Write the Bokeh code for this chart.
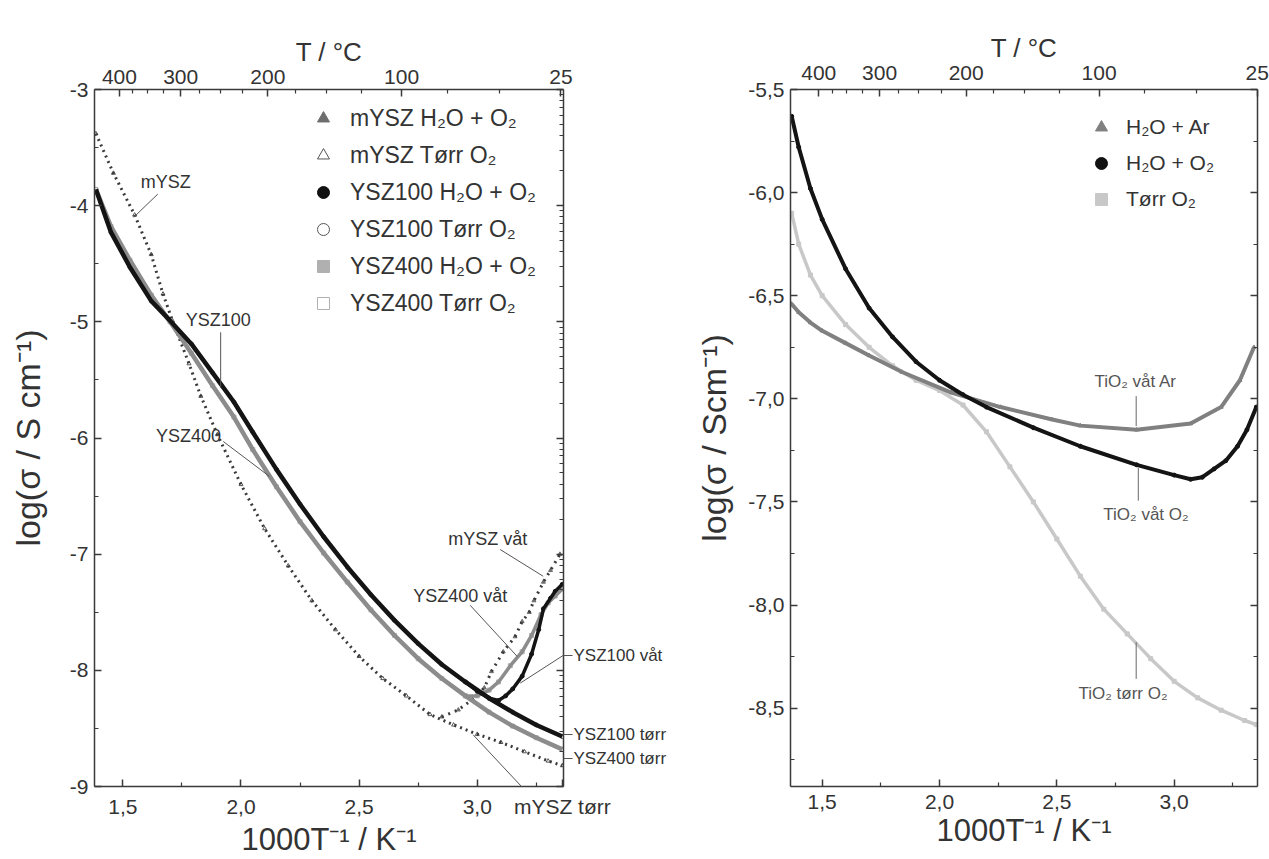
import math
from bokeh.plotting import figure
from bokeh.models import (LinearAxis, FixedTicker, Range1d, Legend, LegendItem, Label,
                          Arrow, CustomJSTickFormatter)
from bokeh.layouts import row
from bokeh.embed import file_html
from bokeh.resources import INLINE

FONT = "Liberation Sans"
AX = "#3a3a3a"

# ---------------- left panel data (1000/T, log sigma) ----------------
ysz_x = [1.386, 1.45, 1.53, 1.62, 1.70, 1.79, 1.88, 1.97, 2.05, 2.15, 2.25, 2.35, 2.45,
         2.55, 2.65, 2.75, 2.85, 2.95, 3.05, 3.15, 3.25, 3.36]
ysz100_dry_y = [-3.86, -4.23, -4.53, -4.82, -4.99, -5.19, -5.44, -5.69, -5.95, -6.27, -6.57,
                -6.85, -7.11, -7.35, -7.57, -7.77, -7.95, -8.10, -8.24, -8.36, -8.47, -8.57]
ysz400_dry_y = [-3.86, -4.18, -4.47, -4.77, -5.00, -5.27, -5.55, -5.82, -6.10, -6.42, -6.72,
                -6.99, -7.24, -7.48, -7.70, -7.90, -8.07, -8.22, -8.36, -8.48, -8.58, -8.68]

ysz100_wet_x = [2.95, 3.00, 3.05, 3.09, 3.12, 3.15, 3.19, 3.23, 3.26, 3.28, 3.31, 3.33, 3.36]
ysz100_wet_y = [-8.10, -8.18, -8.24, -8.26, -8.22, -8.16, -8.05, -7.86, -7.65, -7.47, -7.38, -7.32, -7.26]

ysz400_wet_x = [2.95, 3.00, 3.05, 3.09, 3.14, 3.19, 3.23, 3.27, 3.30, 3.33, 3.36]
ysz400_wet_y = [-8.22, -8.22, -8.17, -8.10, -7.96, -7.84, -7.70, -7.52, -7.42, -7.36, -7.30]

mysz_dry_x = [1.386, 1.46, 1.55, 1.62, 1.67, 1.71, 1.78, 1.83, 1.90, 2.00, 2.10, 2.20, 2.30,
              2.40, 2.50, 2.60, 2.70, 2.80, 2.90, 3.00, 3.10, 3.20, 3.30, 3.36]
mysz_dry_y = [-3.38, -3.72, -4.08, -4.42, -4.76, -4.99, -5.36, -5.64, -5.97, -6.40, -6.78,
              -7.10, -7.40, -7.65, -7.88, -8.07, -8.22, -8.38, -8.47, -8.55, -8.62, -8.70,
              -8.78, -8.82]
mysz_wet_x = [2.85, 2.92, 2.98, 3.03, 3.06, 3.11, 3.16, 3.19, 3.22, 3.24, 3.28, 3.31, 3.35]
mysz_wet_y = [-8.40, -8.34, -8.25, -8.15, -8.01, -7.84, -7.71, -7.58, -7.50, -7.40, -7.24, -7.14, -7.00]

# ---------------- right panel data (TiO2) ----------------
ar_x = [1.37, 1.40, 1.45, 1.50, 1.60, 1.70, 1.84, 2.05, 2.26, 2.48, 2.60, 2.84, 3.07, 3.20, 3.28, 3.34]
ar_y = [-6.54, -6.58, -6.63, -6.67, -6.73, -6.79, -6.87, -6.97, -7.04, -7.10, -7.13, -7.15,
        -7.12, -7.04, -6.91, -6.75]
o2_x = [1.37, 1.40, 1.45, 1.50, 1.60, 1.70, 1.80, 1.90, 2.00, 2.10, 2.20, 2.40, 2.60, 2.84,
        3.00, 3.07, 3.12, 3.17, 3.22, 3.27, 3.31, 3.35]
o2_y = [-5.63, -5.78, -5.98, -6.13, -6.37, -6.56, -6.70, -6.82, -6.91, -6.98, -7.04, -7.14,
        -7.23, -7.32, -7.37, -7.39, -7.38, -7.34, -7.30, -7.23, -7.15, -7.04]
dry_x = [1.37, 1.40, 1.45, 1.50, 1.60, 1.70, 1.80, 1.90, 2.00, 2.10, 2.20, 2.30, 2.40, 2.50,
         2.60, 2.70, 2.80, 2.90, 3.00, 3.10, 3.20, 3.30, 3.35]
dry_y = [-6.10, -6.25, -6.40, -6.50, -6.64, -6.75, -6.84, -6.91, -6.96, -7.03, -7.16, -7.33,
         -7.50, -7.68, -7.86, -8.02, -8.14, -8.26, -8.37, -8.45, -8.51, -8.56, -8.58]

# ticks
x_major = [1.5, 2.0, 2.5, 3.0]
x_minor = [1.75, 2.25, 2.75, 3.25]
T_major = [400, 300, 200, 100, 25]
T_minor = [375, 350, 325, 275, 250, 225, 175, 150, 125, 75, 50]
left_y_major = [-9, -8, -7, -6, -5, -4, -3]
left_y_minor = [-8.5, -7.5, -6.5, -5.5, -4.5, -3.5]
right_y_major = [-8.5, -8.0, -7.5, -7.0, -6.5, -6.0, -5.5]
right_y_minor = [-8.75, -8.25, -7.75, -7.25, -6.75, -6.25, -5.75]

# labels that sit outside the left frame (at the right edge / below)
side_label_y = [-7.87, -8.55, -8.76]
side_label_text = ["YSZ100 våt", "YSZ100 tørr", "YSZ400 tørr"]
below_label_x = 3.36
below_label_text = "mYSZ tørr"


def inv(T):
    return 1000.0 / (T + 273.15)


def style(ax, label_size="21px", title_size="26px"):
    ax.axis_line_color = AX
    ax.axis_line_width = 1.5
    ax.major_tick_line_color = AX
    ax.minor_tick_line_color = AX
    ax.major_tick_line_width = 1.5
    ax.minor_tick_line_width = 1.2
    ax.major_tick_in = 7
    ax.major_tick_out = 0
    ax.minor_tick_in = 4
    ax.minor_tick_out = 0
    ax.major_label_text_font = FONT
    ax.major_label_text_font_size = label_size
    ax.major_label_text_color = "#333333"
    ax.axis_label_text_font = FONT
    ax.axis_label_text_font_style = "normal"
    ax.axis_label_text_font_size = title_size
    ax.axis_label_text_color = "#333333"


comma1 = CustomJSTickFormatter(code="return tick.toFixed(1).replace('.', ',')")
int0 = CustomJSTickFormatter(code="return tick.toFixed(0)")
blank = CustomJSTickFormatter(code="return ''")
tempfmt = CustomJSTickFormatter(code="return String(Math.round(1000/tick - 273.15))")


def make_fig(width, xr, yr, bl, br, bt, xticks, xfmt, yticks, yminor, yfmt, right_ticks,
             right_minor, ylabel, ystand, top_stand):
    p = figure(width=width, height=859, x_range=Range1d(*xr), y_range=Range1d(*yr),
               min_border_left=bl, min_border_right=br, min_border_top=bt, min_border_bottom=68,
               output_backend="svg", toolbar_location=None)
    p.xgrid.visible = False
    p.ygrid.visible = False
    p.outline_line_color = None
    xa = p.xaxis[0]
    xa.ticker = FixedTicker(ticks=xticks, minor_ticks=x_minor)
    xa.formatter = xfmt
    xa.axis_label = "1000T⁻¹ / K⁻¹"
    style(xa, title_size="31px")
    xa.major_label_standoff = 8
    xa.axis_label_standoff = 1
    ya = p.yaxis[0]
    ya.ticker = FixedTicker(ticks=yticks, minor_ticks=yminor)
    ya.formatter = yfmt
    ya.axis_label = ylabel
    style(ya, title_size="34px")
    ya.major_label_standoff = 6
    ya.axis_label_standoff = ystand
    top = LinearAxis(ticker=FixedTicker(ticks=[inv(t) for t in T_major],
                                        minor_ticks=[inv(t) for t in T_minor]),
                     formatter=tempfmt, axis_label="T / °C")
    style(top)
    top.major_label_standoff = top_stand
    top.axis_label_standoff = 0
    p.add_layout(top, "above")
    right = LinearAxis(ticker=FixedTicker(ticks=right_ticks, minor_ticks=right_minor),
                       formatter=blank)
    style(right)
    right.major_label_standoff = 0
    p.add_layout(right, "right")
    return p


# ---------------- left figure ----------------
log_minor = [n + math.log10(k) for n in range(-9, -3) for k in range(2, 10)]
bottom_fmt1 = CustomJSTickFormatter(
    args=dict(lx=below_label_x, lt=below_label_text),
    code="if (Math.abs(tick - lx) < 1e-6) { return lt; } return tick.toFixed(1).replace('.', ',');")
p1 = make_fig(680, (1.38, 3.365), (-9, -3), 94, 117, 84, x_major + [below_label_x], bottom_fmt1,
              left_y_major, left_y_minor, int0, left_y_major, log_minor, "log(σ / S cm⁻¹)", 20, 6)

# side labels drawn as tick labels of an extra right axis (short dash = tick)
side_fmt = CustomJSTickFormatter(
    args=dict(ys=side_label_y, ts=side_label_text),
    code="for (let i = 0; i < ys.length; i++) { if (Math.abs(tick - ys[i]) < 1e-6) return ts[i]; } return '';")
side_ax = LinearAxis(ticker=FixedTicker(ticks=side_label_y, minor_ticks=[]), formatter=side_fmt)
side_ax.axis_line_color = None
side_ax.major_tick_in = 0
side_ax.major_tick_out = 9
side_ax.major_tick_line_color = "#555555"
side_ax.major_tick_line_width = 1
side_ax.minor_tick_line_color = None
side_ax.major_label_standoff = 1
side_ax.major_label_text_font = FONT
side_ax.major_label_text_font_size = "17px"
side_ax.major_label_text_color = "#333333"
p1.add_layout(side_ax, "right")

# markers at the data points (legend glyphs), then the curves on top
r_my_w = p1.scatter(mysz_wet_x, mysz_wet_y, marker="triangle", size=4,
                    fill_color="#6e6e6e", line_color="#6e6e6e")
r_my_d = p1.scatter(mysz_dry_x, mysz_dry_y, marker="triangle", size=4,
                    fill_color=None, line_color="#555555")
r_y1_w = p1.scatter(ysz100_wet_x, ysz100_wet_y, marker="circle", size=4,
                    fill_color="#111111", line_color="#111111")
r_y1_d = p1.scatter(ysz_x, ysz100_dry_y, marker="circle", size=4,
                    fill_color=None, line_color="#555555")
r_y4_w = p1.scatter(ysz400_wet_x, ysz400_wet_y, marker="square", size=4,
                    fill_color="#b0b0b0", line_color="#b0b0b0")
r_y4_d = p1.scatter(ysz_x, ysz400_dry_y, marker="square", size=4,
                    fill_color=None, line_color="#b0b0b0")

p1.line(mysz_dry_x, mysz_dry_y, line_color="#3a3a3a", line_width=3, line_dash="2 4")
p1.line(mysz_wet_x, mysz_wet_y, line_color="#3a3a3a", line_width=3, line_dash="2 5")
p1.line(ysz_x, ysz400_dry_y, line_color="#8c8c8c", line_width=4.5)
p1.line(ysz400_wet_x, ysz400_wet_y, line_color="#8c8c8c", line_width=3.5)
p1.line(ysz_x, ysz100_dry_y, line_color="#141414", line_width=4.5)
p1.line(ysz100_wet_x, ysz100_wet_y, line_color="#141414", line_width=3.5)

items1 = [
    LegendItem(label="mYSZ H₂O + O₂", renderers=[r_my_w]),
    LegendItem(label="mYSZ Tørr O₂", renderers=[r_my_d]),
    LegendItem(label="YSZ100 H₂O + O₂", renderers=[r_y1_w]),
    LegendItem(label="YSZ100 Tørr O₂", renderers=[r_y1_d]),
    LegendItem(label="YSZ400 H₂O + O₂", renderers=[r_y4_w]),
    LegendItem(label="YSZ400 Tørr O₂", renderers=[r_y4_d]),
]
leg1 = Legend(items=items1, location=(214, 468), label_text_font=FONT,
              label_text_font_size="23px", label_text_color="#333333",
              glyph_width=30, glyph_height=30, label_height=30, spacing=7,
              label_standoff=12, padding=0, margin=0, border_line_color=None,
              background_fill_alpha=0)
p1.add_layout(leg1, "center")

ann1 = [
    ("mYSZ", 1.576, -3.80),
    ("YSZ100", 1.766, -4.98),
    ("YSZ400", 1.640, -5.98),
    ("mYSZ våt", 2.877, -6.87),
    ("YSZ400 våt", 2.729, -7.36),
]
for t, x, y in ann1:
    p1.add_layout(Label(x=x, y=y, text=t, text_font=FONT, text_font_size="18px",
                        text_color="#333333", text_baseline="middle", text_align="left"))
lead1 = [
    (1.648, -3.90, 1.546, -4.10),
    (1.914, -5.09, 1.914, -5.57),
    (1.925, -6.03, 2.120, -6.33),
    (3.097, -6.96, 3.279, -7.19),
    (2.970, -7.44, 3.169, -7.88),
    (3.365, -7.87, 3.182, -8.11),
    (2.983, -8.556, 3.224, -9.08),
]
for x0, y0, x1, y1 in lead1:
    p1.add_layout(Arrow(x_start=x0, y_start=y0, x_end=x1, y_end=y1, end=None,
                        line_color="#555555", line_width=1))

# ---------------- right figure ----------------
p2 = make_fig(589, (1.365, 3.355), (-8.88, -5.5), 110, 12, 89, x_major, comma1,
              right_y_major, right_y_minor, comma1, right_y_major, right_y_minor,
              "log(σ / Scm⁻¹)", 12, 10)

r_ar = p2.scatter(ar_x, ar_y, marker="triangle", size=4, fill_color="#808080", line_color="#808080")
r_o2 = p2.scatter(o2_x, o2_y, marker="circle", size=4, fill_color="#111111", line_color="#111111")
r_dr = p2.scatter(dry_x, dry_y, marker="square", size=4, fill_color="#c8c8c8", line_color="#c8c8c8")
p2.line(dry_x, dry_y, line_color="#c8c8c8", line_width=3.5)
p2.line(ar_x, ar_y, line_color="#808080", line_width=4)
p2.line(o2_x, o2_y, line_color="#141414", line_width=4)

items2 = [
    LegendItem(label="H₂O + Ar", renderers=[r_ar]),
    LegendItem(label="H₂O + O₂", renderers=[r_o2]),
    LegendItem(label="Tørr O₂", renderers=[r_dr]),
]
leg2 = Legend(items=items2, location=(296, 572), label_text_font=FONT,
              label_text_font_size="21px", label_text_color="#333333",
              glyph_width=30, glyph_height=30, label_height=30, spacing=6,
              label_standoff=10, padding=0, margin=0, border_line_color=None,
              background_fill_alpha=0)
p2.add_layout(leg2, "center")

ann2 = [
    ("TiO₂ våt Ar", 2.660, -6.915),
    ("TiO₂ våt O₂", 2.698, -7.562),
    ("TiO₂ tørr O₂", 2.592, -8.431),
]
for t, x, y in ann2:
    p2.add_layout(Label(x=x, y=y, text=t, text_font=FONT, text_font_size="17px",
                        text_color="#555555", text_baseline="middle", text_align="left"))
lead2 = [
    (2.838, -6.987, 2.838, -7.132),
    (2.847, -7.335, 2.847, -7.494),
    (2.838, -8.180, 2.838, -8.358),
]
for x0, y0, x1, y1 in lead2:
    p2.add_layout(Arrow(x_start=x0, y_start=y0, x_end=x1, y_end=y1, end=None,
                        line_color="#666666", line_width=1))

layout = row(p1, p2)
open("out.html", "w").write(file_html(layout, INLINE))
